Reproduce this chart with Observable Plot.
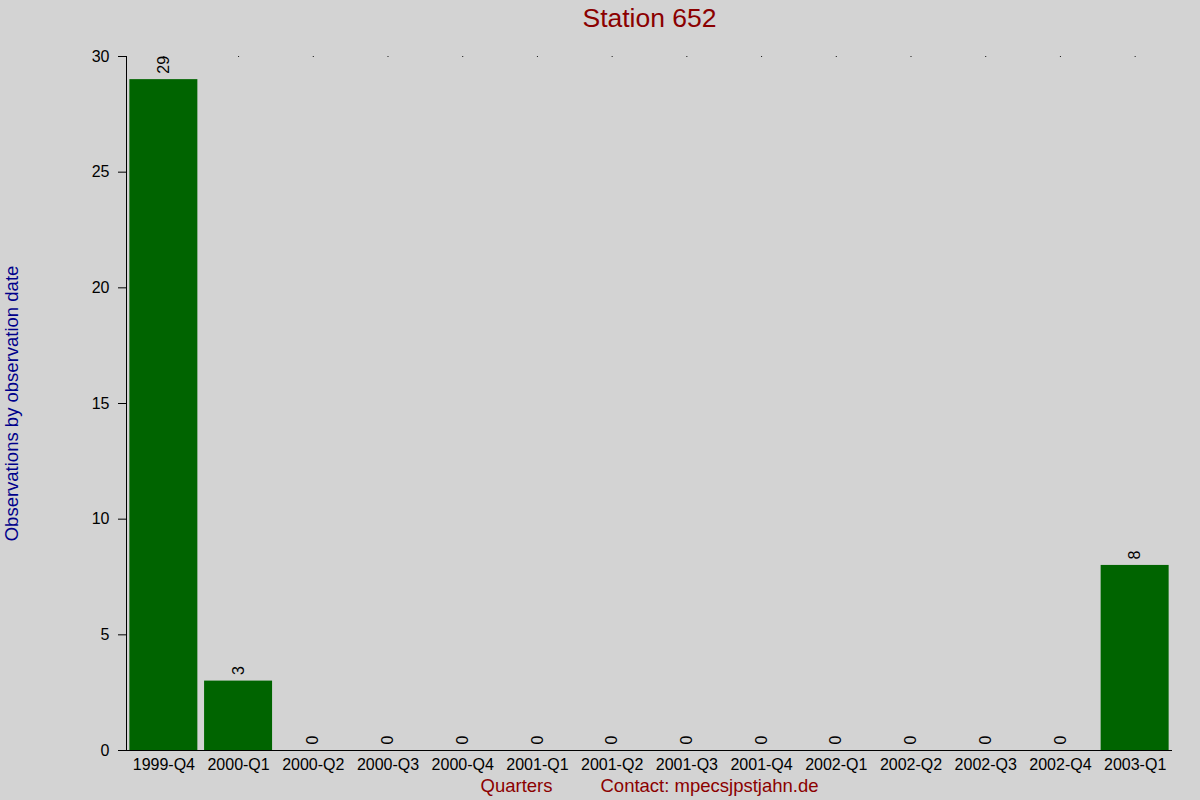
<!DOCTYPE html>
<html>
<head>
<meta charset="utf-8">
<script src="https://cdn.jsdelivr.net/npm/d3@7"></script>
<script src="https://cdn.jsdelivr.net/npm/@observablehq/plot@0.6"></script>
<style>
  html, body { margin: 0; padding: 0; background: #d3d3d3; }
  #chart svg { display: block; }
</style>
</head>
<body>
<div id="chart"></div>
<script>
const quarters = ["1999-Q4","2000-Q1","2000-Q2","2000-Q3","2000-Q4","2001-Q1","2001-Q2","2001-Q3","2001-Q4","2002-Q1","2002-Q2","2002-Q3","2002-Q4","2003-Q1"];
const observations = [29, 3, 0, 0, 0, 0, 0, 0, 0, 0, 0, 0, 0, 8];
const yTicks = [0, 5, 10, 15, 20, 25, 30];
const titleText = "Station 652";
const yLabel = "Observations by observation date";
const xLabel = "Quarters";
const contactText = "Contact: mpecsjpstjahn.de";

const data = quarters.map((q, i) => ({quarter: q, value: observations[i]}));

const chart = Plot.plot({
  width: 1200,
  height: 800,
  marginTop: 56,
  marginBottom: 50,
  marginLeft: 126,
  marginRight: 28,
  style: {background: "#d3d3d3", fontFamily: "'Liberation Sans', Arial, sans-serif", fontSize: "16px", color: "#000"},
  x: {domain: quarters, paddingInner: 0.09, paddingOuter: 0.045, round: false},
  y: {domain: [0, 30]},
  marks: [
    Plot.barY(data, {x: "quarter", y: "value", fill: "#006400"}),
    Plot.dot(quarters, {x: d => d, y: () => 30, r: 0.6, fill: "#000", stroke: null}),
    Plot.text(data, {x: "quarter", y: "value", text: d => String(d.value), rotate: -90, textAnchor: "start", lineAnchor: "middle", dy: -6, fontSize: 16, fill: "#000"}),
    Plot.frame({anchor: "left", stroke: "#000"}),
    Plot.ruleY([0], {stroke: "#000"}),
    Plot.axisY({ticks: yTicks, tickSize: 8, tickPadding: 9, label: null, fontSize: 16}),
    Plot.axisX({tickSize: 0, tickPadding: 8, label: null, fontSize: 16}),
    Plot.text([titleText], {frameAnchor: "top", text: d => d, dy: -38, lineAnchor: "middle", fontSize: 26.5, fill: "#8b0000"}),
    Plot.text([yLabel], {frameAnchor: "left", text: d => d, rotate: -90, dx: -114, textAnchor: "middle", lineAnchor: "middle", fontSize: 18.5, fill: "#00008b"}),
    Plot.text([xLabel], {frameAnchor: "bottom", text: d => d, dx: -133, dy: 36, lineAnchor: "middle", fontSize: 18.5, fill: "#8b0000"}),
    Plot.text([contactText], {frameAnchor: "bottom", text: d => d, dx: 60, dy: 36, lineAnchor: "middle", fontSize: 18.5, fill: "#8b0000"})
  ]
});
document.getElementById("chart").appendChild(chart);
</script>
</body>
</html>
